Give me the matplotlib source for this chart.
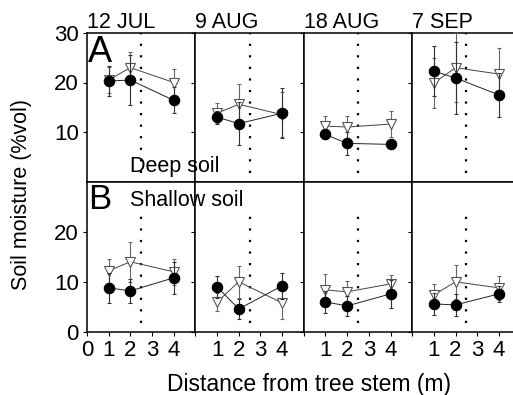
import numpy as np
import matplotlib
matplotlib.use("Agg")
import matplotlib.pyplot as plt

plt.rcParams["font.family"] = ["Liberation Sans", "DejaVu Sans"]

dates = ["12 JUL", "9 AUG", "18 AUG", "7 SEP"]
distance = [1, 2, 4]
crown_edge = 2.5

# deep soil (A)
deep_filled = [[20.3, 20.5, 16.4], [13.0, 11.7, 13.8], [9.5, 7.7, 7.5], [22.3, 20.9, 17.5]]
deep_filled_err = [[3.0, 5.0, 2.6], [1.3, 4.4, 5.0], [1.0, 2.4, 0.6], [5.0, 7.3, 4.5]]
deep_open = [[20.5, 23.0, 20.0], [13.8, 15.6, 13.5], [11.2, 11.0, 11.6], [19.9, 23.0, 21.7]]
deep_open_err = [[2.7, 3.2, 2.7], [2.0, 4.0, 4.5], [2.0, 2.2, 2.6], [5.0, 7.0, 5.3]]

# shallow soil (B)
shallow_filled = [[8.8, 8.2, 10.8], [9.0, 4.6, 9.2], [6.0, 5.2, 7.6], [5.6, 5.4, 7.6]]
shallow_filled_err = [[3.0, 2.4, 3.2], [2.2, 2.0, 2.6], [2.2, 2.0, 2.8], [2.2, 2.2, 1.6]]
shallow_open = [[12.2, 14.0, 12.0], [6.0, 10.0, 5.8], [8.4, 8.0, 9.6], [7.4, 10.0, 8.8]]
shallow_open_err = [[2.4, 4.0, 2.6], [1.8, 3.2, 3.2], [3.2, 2.2, 1.8], [2.2, 3.4, 2.4]]

W, H = 513, 395
fig = plt.figure(figsize=(W / 100, H / 100), dpi=100)

left_px, top_px, mid_px, bot_px = 87, 33, 181.5, 332
pw = 108.4

rows = [
    (deep_filled, deep_filled_err, deep_open, deep_open_err, top_px, mid_px, [10, 20, 30], (1.8, 30)),
    (shallow_filled, shallow_filled_err, shallow_open, shallow_open_err, mid_px, bot_px, [0, 10, 20], (1.8, 23.6)),
]

for r, (fv, fe, ov, oe, y0, y1, yt, dl) in enumerate(rows):
    for i in range(4):
        ax = fig.add_axes([(left_px + i * pw) / W, 1 - y1 / H, pw / W, (y1 - y0) / H])
        ax.set_xlim(0, 5)
        ax.set_ylim(0, 30)
        for s in ax.spines.values():
            s.set_linewidth(1.1)

        # crown edge
        ax.vlines(crown_edge, dl[0], dl[1], colors="black", linewidth=1.6,
                  linestyles=(0, (1, 4.2)))

        ax.errorbar(distance, ov[i], yerr=oe[i], color="#444444", ecolor="#666666",
                    elinewidth=0.8, capsize=1.5, capthick=0.8, linewidth=0.7,
                    marker="v", markersize=7, markerfacecolor="white",
                    markeredgecolor="#555555", markeredgewidth=0.8, zorder=3)
        ax.errorbar(distance, fv[i], yerr=fe[i], color="#222222", ecolor="#333333",
                    elinewidth=0.8, capsize=1.5, capthick=0.8, linewidth=0.7,
                    marker="o", markersize=7.3, markerfacecolor="black",
                    markeredgecolor="black", zorder=4)

        ax.set_yticks(yt)
        ax.tick_params(axis="y", direction="out", length=3, width=0.8, labelsize=16, pad=3)
        if i > 0:
            ax.set_yticklabels([])
        if r == 0:
            ax.set_xticks([])
            ax.set_title(dates[i], loc="left", fontsize=15.5, pad=2)
        else:
            ax.set_xticks([0, 1, 2, 3, 4])
            ax.set_xticklabels(["0" if i == 0 else "", "1", "2", "3", "4"])
            ax.tick_params(axis="x", direction="out", length=3, width=0.8, labelsize=16, pad=3)

fig.text(88 / W, 1 - 35 / H, "A", fontsize=26, ha="left", va="top")
fig.text(88 / W, 1 - 183 / H, "B", fontsize=25, ha="left", va="top")
fig.text(130 / W, 1 - 172 / H, "Deep soil", fontsize=15.5, ha="left", va="baseline")
fig.text(130 / W, 1 - 206 / H, "Shallow soil", fontsize=15.5, ha="left", va="baseline")

fig.text(22 / W, 1 - 194 / H, "Soil moisture (%vol)", rotation=90, fontsize=15.5,
         ha="center", va="center")
fig.text(309 / W, 1 - 385 / H, "Distance from tree stem (m)", fontsize=16.5,
         ha="center", va="center")

fig.savefig("out.png", dpi=100)
